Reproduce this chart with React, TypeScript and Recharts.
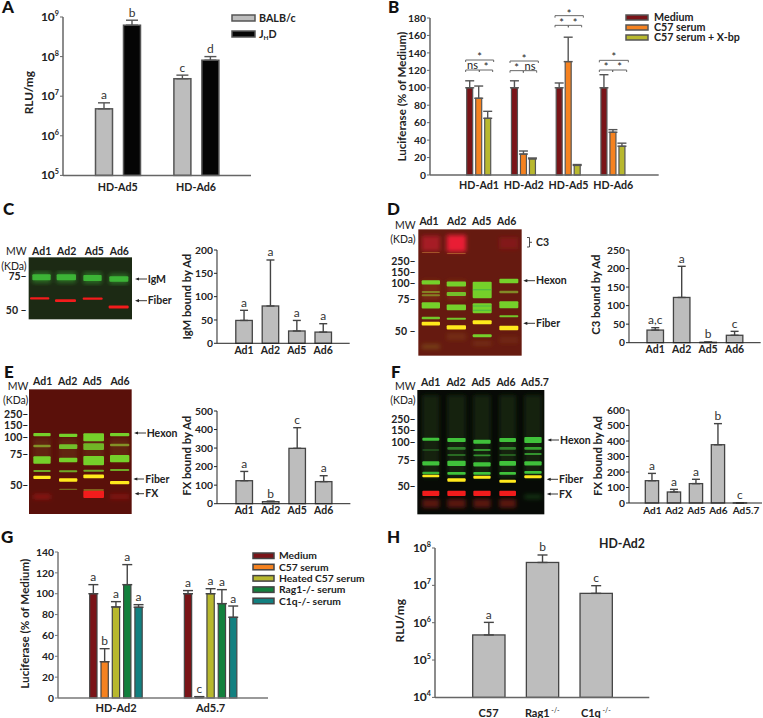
import React from 'react';
import { BarChart, Bar, XAxis, YAxis, ErrorBar, Legend } from 'recharts';

const FONT = 'Lato, sans-serif';
const INK = '#222';
const GREY = '#bdbdbd';
const MAROON = '#7a1418';
const ORANGE = '#f58220';
const OLIVE = '#b8b82e';
const GREEN = '#12803c';
const TEAL = '#128080';

// Panel A
const A_CATS = ['HD-Ad5', 'HD-Ad6'];
const A_BALB = [4.8e6, 2.76e7];
const A_BALB_TOP = [6.8e6, 3.4e7];
const A_BALB_SIG = ['a', 'c'];
const A_JHD = [6.2e8, 8.1e7];
const A_JHD_TOP = [8.3e8, 1e8];
const A_JHD_SIG = ['b', 'd'];
const A_TICKS = [1e5, 1e6, 1e7, 1e8, 1e9];

// Panel B
const B_CATS = ['HD-Ad1', 'HD-Ad2', 'HD-Ad5', 'HD-Ad6'];
const B_MEDIUM = [100, 100, 100, 100];
const B_MEDIUM_TOP = [108, 108, 105.5, 115];
const B_C57 = [88, 24, 130, 49];
const B_C57_TOP = [102, 27.5, 158, 52];
const B_XBP = [65, 18.5, 11, 33];
const B_XBP_TOP = [73, 19.5, 12, 36.5];
const B_TICKS = [0, 20, 40, 60, 80, 100, 120, 140, 160, 180];

// Panel C
const AD4 = ['Ad1', 'Ad2', 'Ad5', 'Ad6'];
const C_VALS = [49, 80, 26.4, 24];
const C_TOPS = [70.7, 178.6, 49, 42];
const C_SIG = ['a', 'a', 'a', 'a'];
const C_TICKS = [0, 50, 100, 150, 200];

// Panel D
const D_VALS = [34, 122, 1, 20];
const D_TOPS = [40.5, 206, 2, 30.6];
const D_SIG = ['a,c', 'a', 'b', 'c'];
const D_TICKS = [0, 50, 100, 150, 200, 250];

// Panel E
const E_VALS = [124, 11, 298.6, 119];
const E_TOPS = [174, 14, 410, 151];
const E_SIG = ['a', 'b', 'c', 'a'];
const E_TICKS = [0, 100, 200, 300, 400, 500];

// Panel F
const F_CATS = ['Ad1', 'Ad2', 'Ad5', 'Ad6', 'Ad5.7'];
const F_VALS = [144, 71, 125, 376, 0.5];
const F_TOPS = [191, 88, 153, 512, 0.5];
const F_SIG = ['a', 'a', 'a', 'b', 'c'];
const F_TICKS = [0, 100, 200, 300, 400, 500, 600];

// Panel G
const G_CATS = ['HD-Ad2', 'Ad5.7'];
const G_MEDIUM = [100, 100];
const G_MEDIUM_TOP = [108.7, 103];
const G_MEDIUM_SIG = ['a', 'a'];
const G_C57 = [34.8, 1];
const G_C57_TOP = [47.3, 1.3];
const G_C57_SIG = ['b', 'c'];
const G_HEATED = [87.3, 100];
const G_HEATED_TOP = [92.4, 104.8];
const G_HEATED_SIG = ['a', 'a'];
const G_RAG = [108.7, 90.5];
const G_RAG_TOP = [127.9, 103.9];
const G_RAG_SIG = ['a', 'a'];
const G_C1Q = [87, 77.4];
const G_C1Q_TOP = [89.5, 88.2];
const G_C1Q_SIG = ['a', 'a'];
const G_TICKS = [0, 20, 40, 60, 80, 100, 120, 140];

// Panel H
const H_CATS = ['C57', 'Rag1 -/-', 'C1q -/-'];
const H_VALS = [4.7e5, 4.1e7, 6.1e6];
const H_TOPS = [1.02e6, 6.5e7, 9.8e6];
const H_SIG = ['a', 'b', 'c'];
const H_TICKS = [1e4, 1e5, 1e6, 1e7, 1e8];

type Series = { key: string; vals: number[]; tops: number[]; sigs?: string[]; fill: string };

const letterBar = (s: Series, logMin: number | null, stroke: string, sw: number) => (p: any) => {
  const { x, y, width, height, index } = p;
  const v = s.vals[index];
  const t = s.tops[index];
  const frac = logMin ? Math.log(t / logMin) / Math.log(v / logMin) : t / v;
  const topY = y + height - height * frac;
  return (
    <g>
      <rect x={x} y={y} width={width} height={height} fill={s.fill} stroke={stroke} strokeWidth={sw} />
      {s.sigs && (
        <text x={x + width / 2} y={topY - 3.5} textAnchor="middle" fontFamily={FONT} fontSize={12} fill="#333">
          {s.sigs[index]}
        </text>
      )}
    </g>
  );
};

const PowTick = (fs: number) => (p: any) => {
  const exp = Math.round(Math.log10(p.payload.value));
  return (
    <text x={p.x} y={p.y + 4} textAnchor="end" fontFamily={FONT} fontWeight={700} fontSize={fs} fill={INK}>
      10<tspan dy={-5} fontSize={fs * 0.6}>{exp}</tspan>
    </text>
  );
};

const SupTick = (fs: number, dyTop: number) => (p: any) => {
  const [a, b] = String(p.payload.value).split(' ');
  return (
    <text x={p.x} y={p.y + dyTop} textAnchor="middle" fontFamily={FONT} fontWeight={700} fontSize={fs} fill={INK}>
      {a}
      {b && <tspan dy={-4} fontSize={fs * 0.62} fontWeight={400}>{' ' + b}</tspan>}
    </text>
  );
};

// the long last label of panel F sits a little to the right of its bar
const ShiftLastTick = (fs: number, dyTop: number, lastIndex: number, dx: number) => (p: any) => (
  <text x={p.x + (p.index === lastIndex ? dx : 0)} y={p.y + dyTop} textAnchor="middle" fontFamily={FONT} fontWeight={700} fontSize={fs} fill={INK}>
    {p.payload.value}
  </text>
);

type LegendSpec = { x: number; y: number; names: string[]; colors: string[]; rw: number; rh: number; pitch: number; tx: number; fs: number; stroke: string };

const LegendBox = (l: LegendSpec) => () => (
  <svg width={170} height={l.pitch * l.names.length + 8} style={{ display: 'block', overflow: 'visible' }}>
    {l.names.map((n, i) => (
      <g key={n}>
        <rect x={1} y={1 + i * l.pitch} width={l.rw} height={l.rh} fill={l.colors[i]} stroke={l.stroke} strokeWidth={1.5} />
        <text x={l.tx} y={1 + i * l.pitch + l.rh / 2 + l.fs * 0.36} fontFamily={FONT} fontWeight={700} fontSize={l.fs} fill={INK}>
          {n === 'JHD' ? (
            <>J<tspan dy={2} fontSize={l.fs * 0.6}>H</tspan><tspan dy={-2}>D</tspan></>
          ) : n}
        </text>
      </g>
    ))}
  </svg>
);

type ChartProps = {
  cats: string[]; series: Series[]; L: number; T: number; R: number; B: number;
  domain: [number, number]; ticks: number[]; log?: boolean; padL: number; padR: number;
  barSize: number; barGap?: number; cap: number; xMargin: number; xFont: number; yFont: number;
  axis: string; axisW: number; barStroke: string; barW: number; legend?: LegendSpec; xTick?: any;
};

function Chart(c: ChartProps) {
  const yw = 40, xh = 22, top = 10, right = 4;
  const left = c.L - yw;
  const chartTop = c.T - top;
  const rows = c.cats.map((name, i) => {
    const row: any = { name };
    c.series.forEach((s) => {
      row[s.key] = s.vals[i];
      row[s.key + '_e'] = [0, s.tops[i] - s.vals[i]];
    });
    return row;
  });
  const tickStyle = (fs: number) => ({ fontSize: fs, fontWeight: 700, fill: INK, fontFamily: FONT });
  return (
    <div style={{ position: 'absolute', left, top: chartTop }}>
      <BarChart
        width={c.R - c.L + yw + right}
        height={c.B - c.T + top + xh}
        data={rows}
        margin={{ top, right, bottom: 0, left: 0 }}
        barSize={c.barSize}
        barGap={c.barGap ?? 0}
      >
        <XAxis
          dataKey="name"
          height={xh}
          interval={0}
          tickLine={false}
          tickSize={0}
          tickMargin={c.xMargin}
          padding={{ left: c.padL, right: c.padR }}
          axisLine={{ stroke: c.axis, strokeWidth: c.axisW }}
          tick={c.xTick ?? tickStyle(c.xFont)}
        />
        <YAxis
          width={yw}
          domain={c.domain}
          ticks={c.ticks}
          interval={0}
          scale={c.log ? 'log' : 'linear'}
          allowDataOverflow={false}
          tickSize={3}
          tickMargin={1}
          axisLine={{ stroke: c.axis, strokeWidth: c.axisW }}
          tickLine={{ stroke: c.axis, strokeWidth: 1 }}
          tick={c.log ? PowTick(c.yFont) : tickStyle(c.yFont)}
        />
        {c.series.map((s) => (
          <Bar
            key={s.key}
            dataKey={s.key}
            isAnimationActive={false}
            shape={letterBar(s, c.log ? c.domain[0] : null, c.barStroke, c.barW)}
          >
            <ErrorBar dataKey={s.key + '_e'} direction="y" width={c.cap} stroke={c.barStroke} strokeWidth={1.4} isAnimationActive={false} />
          </Bar>
        ))}
        {c.legend && (
          <Legend
            layout="vertical"
            align="center"
            verticalAlign="middle"
            wrapperStyle={{ left: c.legend.x - left, top: c.legend.y - chartTop, width: 170, margin: 0 }}
            content={LegendBox(c.legend)}
          />
        )}
      </BarChart>
    </div>
  );
}

// ---- decorative overlay (blots, annotations) ----
const Gn = '#74d02c';
const Gf = '#3fc23a';
const Yl = '#ffe91c';
const Rd = '#f21c1c';
const Ol = '#8aa52a';
type BandRow = [number, number, string, number?];
type Lane = [number, number, BandRow[]];

const C_LANES: Lane[] = [
  [97, 152, [[232, 18, Gf, 0.85]]], [170, 228, [[232, 18, Gf, 0.85]]], [250, 305, [[234, 18, Gf, 0.85]]], [328, 385, [[237, 16, Gf, 0.85]]],
  [90, 148, [[295, 7, Rd]]], [165, 228, [[302, 8, Rd]]], [248, 308, [[296, 7, Rd]]], [326, 386, [[321, 9, Rd]]],
];
const C_GLOW: Lane[] = [
  [97, 152, [[232, 34, Gf, 0.4]]], [170, 228, [[232, 34, Gf, 0.4]]], [250, 305, [[234, 34, Gf, 0.4]]], [328, 385, [[237, 32, Gf, 0.4]]],
];
const D_LANES: Lane[] = [
  [125, 180, [[158, 2, '#d8a040', 0.6], [247, 13, Gn], [276, 6, Ol, 0.7], [286, 6, Ol, 0.7], [316, 19, Gn], [354, 7, Gn, 0.95], [371, 11, Yl]]],
  [200, 258, [[161, 2, '#d8a040', 0.6], [252, 15, Gn], [282, 12, Gn, 0.9], [322, 17, Gn], [356, 6, Gn, 0.95], [382, 13, Yl]]],
  [278, 335, [[270, 50, Gn], [269, 3, '#3fae4a', 0.8], [325, 30, Gn], [318, 3, '#3fae4a', 0.8], [331, 3, '#3fae4a', 0.8], [367, 12, Yl], [407, 9, Gn]]],
  [358, 415, [[243, 14, Gn], [276, 7, Ol, 0.8], [314, 21, Gn], [349, 6, Gn, 0.95], [384, 13, Yl]]],
];
const D_GLOW: Lane[] = [
  [125, 180, [[130, 46, '#d01a30', 0.6], [270, 60, '#8a3a18', 0.5], [440, 14, '#8a6a20', 0.5]]],
  [200, 258, [[130, 50, '#f01a36', 0.95], [270, 60, '#8a3a18', 0.5], [410, 20, '#8a4a18', 0.4]]],
  [278, 335, [[430, 14, '#8a4a18', 0.4]]],
  [358, 415, [[130, 36, '#a01a24', 0.5], [420, 20, '#8a4a18', 0.3]]],
];
const E_LANES: Lane[] = [
  [100, 152, [[254, 10, Gn], [288, 7, Ol, 0.85], [330, 22, Gn], [363, 6, Gn, 0.8], [382, 10, Yl]]],
  [177, 232, [[256, 10, Gn], [290, 14, Gn, 0.9], [330, 14, Gn], [364, 6, Gn, 0.8], [390, 10, Yl], [418, 4, Ol, 0.6]]],
  [250, 312, [[262, 24, Gn], [290, 20, Gn, 0.85], [332, 28, Gn], [362, 6, Gn, 0.8], [379, 11, Yl], [420, 5, '#9a9a2a', 0.8], [433, 22, Rd]]],
  [330, 388, [[254, 10, Gn], [285, 7, Ol, 0.85], [326, 22, Gn], [360, 6, Gn, 0.8], [398, 10, Yl]]],
];
const E_GLOW: Lane[] = [
  [100, 152, [[440, 14, '#b01a1a', 0.6], [300, 70, '#6a3a14', 0.5]]],
  [177, 232, [[300, 70, '#6a3a14', 0.5]]],
  [250, 312, [[300, 70, '#6a3a14', 0.5]]],
  [330, 388, [[440, 14, '#b01a1a', 0.5], [300, 70, '#6a3a14', 0.5]]],
];
const F_LANES: Lane[] = [
  [127, 178, [[268, 9, Gf], [300, 6, Gf, 0.25], [340, 13, Gf], [369, 7, Gf, 0.9], [378, 7, Yl], [430, 16, Rd]]],
  [202, 257, [[270, 12, Gf], [295, 8, Gf, 0.6], [315, 5, Gf, 0.6], [340, 16, Gf], [370, 8, Gf], [390, 10, Yl], [430, 16, Rd]]],
  [280, 332, [[275, 12, Gf], [300, 6, Gf, 0.7], [316, 5, Gf, 0.7], [343, 13, Gf], [370, 8, Gf], [382, 9, Yl], [430, 16, Rd]]],
  [358, 408, [[270, 12, Gf], [295, 8, Gf, 0.6], [315, 5, Gf, 0.5], [340, 14, Gf], [370, 8, Gf], [394, 9, Yl], [430, 16, Rd]]],
  [433, 485, [[270, 18, Gf], [295, 8, Gf, 0.8], [312, 6, Gf, 0.7], [340, 13, Gf], [367, 8, Gf], [380, 9, Yl]]],
];
const F_GLOW: Lane[] = [
  [127, 178, [[260, 250, '#1e3016', 0.6], [460, 26, '#701a10', 0.8]]],
  [202, 257, [[260, 250, '#1e3016', 0.6], [460, 26, '#701a10', 0.8]]],
  [280, 332, [[260, 250, '#1e3016', 0.6], [460, 26, '#701a10', 0.8]]],
  [358, 408, [[260, 250, '#1e3016', 0.6], [460, 26, '#701a10', 0.8]]],
  [433, 485, [[260, 250, '#1e3016', 0.6], [440, 12, Gf, 0.25]]],
];

const bandRects = (ox: number, oy: number, lanes: Lane[]) =>
  lanes.map(([a, b, rows], i) =>
    rows.map(([y, h, col, op], j) => (
      <rect key={i + '-' + j} x={ox + a / 3} y={oy + (y - h / 2) / 3} width={(b - a) / 3} height={h / 3} fill={col} opacity={op ?? 1} rx={1} />
    ))
  );

const Blot = ({ id, ox, oy, x0, x1, y0, y1, bg, lanes, glow }: { id: string; ox: number; oy: number; x0: number; x1: number; y0: number; y1: number; bg: string; lanes: Lane[]; glow: Lane[] }) => (
  <g>
    <clipPath id={id}>
      <rect x={ox + x0 / 3} y={oy + y0 / 3} width={(x1 - x0) / 3} height={(y1 - y0) / 3} />
    </clipPath>
    <rect x={ox + x0 / 3} y={oy + y0 / 3} width={(x1 - x0) / 3} height={(y1 - y0) / 3} fill={bg} />
    <g clipPath={`url(#${id})`}>
      <g filter="url(#glow)">{bandRects(ox, oy, glow)}</g>
      <g filter="url(#soft)">{bandRects(ox, oy, lanes)}</g>
    </g>
  </g>
);

const T = (p: { x: number; y: number; s: string; fs?: number; w?: number; a?: string; fill?: string }) => (
  <text x={p.x} y={p.y} fontFamily={FONT} fontSize={p.fs ?? 10.5} fontWeight={p.w ?? 700} textAnchor={p.a ?? 'start'} fill={p.fill ?? INK}>
    {p.s}
  </text>
);

const VT = ({ x, y, s, fs }: { x: number; y: number; s: string; fs: number }) => (
  <text transform={`translate(${x},${y}) rotate(-90)`} fontFamily={FONT} fontSize={fs} fontWeight={700} textAnchor="middle" fill={INK} dominantBaseline="middle">
    {s}
  </text>
);

const Arrow = ({ x0, x1, y }: { x0: number; x1: number; y: number }) => (
  <g>
    <line x1={x0 + 2} x2={x1} y1={y} y2={y} stroke="#222" strokeWidth={0.9} />
    <polygon points={`${x0},${y} ${x0 + 4},${y - 1.6} ${x0 + 4},${y + 1.6}`} fill="#222" />
  </g>
);

const Bracket = ({ a, b, y }: { a: number; b: number; y: number }) => (
  <polyline points={`${a},${y + 2} ${a},${y} ${b},${y} ${b},${y + 2}`} fill="none" stroke="#666" strokeWidth={1} />
);

const BRACKETS: { top: [number, number, number]; l: [number, number, number]; r: [number, number, number]; s: [string, string, string]; ty: number; ly: number }[] = [
  { top: [257, 341, 180], l: [257, 298, 210], r: [298, 338, 210], s: ['*', 'ns', '*'], ty: 165, ly: 195 },
  { top: [390, 475, 183], l: [390, 430, 212], r: [430, 470, 212], s: ['*', '*', 'ns'], ty: 170, ly: 198 },
  { top: [525, 610, 47], l: [525, 565, 76], r: [565, 605, 76], s: ['*', '*', '*'], ty: 35, ly: 62 },
  { top: [658, 745, 181], l: [658, 698, 210], r: [698, 740, 210], s: ['*', '*', '*'], ty: 166, ly: 195 },
];

const MW = ({ ox, oy, xr, mwY, kY, rows }: { ox: number; oy: number; xr: number; mwY: number; kY: number; rows: [string, number][] }) => (
  <g>
    <T x={ox + xr / 3} y={oy + mwY / 3 + 3.5} s="MW" a="end" w={400} fs={10.5} />
    <T x={ox + xr / 3} y={oy + kY / 3 + 3.5} s="(KDa)" a="end" w={400} fs={10.5} />
    {rows.map(([s, y]) => (
      <T key={s} x={ox + xr / 3} y={oy + y / 3 + 3.5} s={s + '–'} a="end" fs={10.5} />
    ))}
  </g>
);

const Overlay = () => (
  <svg width={763} height={718} style={{ position: 'absolute', left: 0, top: 0 }}>
    <defs>
      <filter id="soft" x="-5%" y="-5%" width="110%" height="110%">
        <feGaussianBlur stdDeviation="0.7" />
      </filter>
      <filter id="glow" x="-10%" y="-10%" width="120%" height="120%">
        <feGaussianBlur stdDeviation="2.2" />
      </filter>
    </defs>

    {/* panel letters */}
    {([['A', 2, 13], ['B', 388, 13], ['C', 3, 214.7], ['D', 387, 214.7], ['E', 4, 378], ['F', 391, 377.7], ['G', 1, 542.7], ['H', 387, 542.7]] as [string, number, number][]).map(([s, x, y]) => (
      <T key={s} x={x} y={y} s={s} fs={17} w={900} fill="#111" />
    ))}

    {/* axis titles */}
    <VT x={30} y={92.7} s="RLU/mg" fs={11.8} />
    <VT x={402.7} y={96.7} s="Luciferase (% of Medium)" fs={11.6} />
    <VT x={188} y={296.7} s="IgM bound by Ad" fs={11.3} />
    <VT x={597.3} y={294.7} s="C3 bound by Ad" fs={11.3} />
    <VT x={188} y={455.8} s="FX bound by Ad" fs={11.3} />
    <VT x={599} y={456} s="FX bound by Ad" fs={11.3} />
    <VT x={25.7} y={623.8} s="Luciferase (% of Medium)" fs={11.6} />
    <VT x={400.7} y={620.8} s="RLU/mg" fs={11.8} />

    {/* brackets in B */}
    {BRACKETS.map((b, i) => (
      <g key={i}>
        <Bracket a={380 + b.top[0] / 3} b={380 + b.top[1] / 3} y={b.top[2] / 3} />
        <Bracket a={380 + b.l[0] / 3} b={380 + b.l[1] / 3} y={b.l[2] / 3} />
        <Bracket a={380 + b.r[0] / 3} b={380 + b.r[1] / 3} y={b.r[2] / 3} />
        <T x={380 + (b.top[0] + b.top[1]) / 6} y={b.ty / 3 + 6} s={b.s[0]} a="middle" w={400} fs={11} />
        <T x={380 + (b.l[0] + b.l[1]) / 6} y={b.ly / 3 + (b.s[1] === 'ns' ? 3.5 : 6)} s={b.s[1]} a="middle" w={400} fs={11} />
        <T x={380 + (b.r[0] + b.r[1]) / 6} y={b.ly / 3 + (b.s[2] === 'ns' ? 3.5 : 6)} s={b.s[2]} a="middle" w={400} fs={11} />
      </g>
    ))}

    {/* C blot */}
    <Blot id="cC" ox={0} oy={200} x0={86} x1={396} y0={172} y1={358} bg="#1c2a14" lanes={C_LANES} glow={C_GLOW} />
    <MW ox={0} oy={200} xr={80} mwY={155} kY={198} rows={[['75', 229], ['50 ', 330]]} />
    {([['Ad1', 125], ['Ad2', 200], ['Ad5', 283], ['Ad6', 358]] as [string, number][]).map(([s, x]) => <T key={s} x={x / 3} y={254.5} s={s} a="middle" />)}
    <Arrow x0={135} x1={147} y={279} />
    <T x={147.7} y={282.5} s="IgM" w={700} />
    <Arrow x0={135} x1={147} y={300.7} />
    <T x={147.7} y={304.2} s="Fiber" w={700} />

    {/* D blot */}
    <Blot id="cD" ox={380} oy={200} x0={115} x1={425} y0={88} y1={467} bg="#661a10" lanes={D_LANES} glow={D_GLOW} />
    <MW ox={380} oy={200} xr={107} mwY={75} kY={118} rows={[['250', 183], ['150', 216], ['100', 250], ['75', 298], ['50 ', 395]]} />
    {([['Ad1', 147], ['Ad2', 230], ['Ad5', 305], ['Ad6', 380]] as [string, number][]).map(([s, x]) => <T key={s} x={380 + x / 3} y={225} s={s} a="middle" />)}
    <polyline points="527,237.5 529.5,237.5 529.5,247 527,247" fill="none" stroke="#222" strokeWidth={0.8} />
    <line x1={529.5} x2={532} y1={242.3} y2={242.3} stroke="#222" strokeWidth={0.8} />
    <T x={536} y={245.8} s="C3" />
    <Arrow x0={523.3} x1={535} y={280.7} />
    <T x={536} y={284.3} s="Hexon" />
    <Arrow x0={523.3} x1={535} y={323.3} />
    <T x={536} y={327} s="Fiber" />

    {/* E blot */}
    <Blot id="cE" ox={0} oy={350} x0={87} x1={395} y0={118} y1={492} bg="#5a100a" lanes={E_LANES} glow={E_GLOW} />
    <MW ox={0} oy={350} xr={85} mwY={108} kY={152} rows={[['250', 192], ['150', 225], ['100', 261], ['75', 314], ['50', 407]]} />
    {([['Ad1', 128], ['Ad2', 203], ['Ad5', 277], ['Ad6', 360]] as [string, number][]).map(([s, x]) => <T key={s} x={x / 3} y={385} s={s} a="middle" />)}
    <Arrow x0={134} x1={146} y={433} />
    <T x={146.7} y={436.5} s="Hexon" />
    <Arrow x0={133.3} x1={144} y={479} />
    <T x={145.3} y={482.5} s="Fiber" />
    <Arrow x0={134.7} x1={144} y={493.7} />
    <T x={145.3} y={497.2} s="FX" />

    {/* F blot */}
    <Blot id="cF" ox={380} oy={350} x0={112} x1={493} y0={120} y1={493} bg="#070a06" lanes={F_LANES} glow={F_GLOW} />
    <MW ox={380} oy={350} xr={107} mwY={110} kY={152} rows={[['250', 207], ['150', 241], ['100', 276], ['75', 330], ['50', 410]]} />
    {([['Ad1', 152], ['Ad2', 228], ['Ad5', 303], ['Ad6', 378], ['Ad5.7', 465]] as [string, number][]).map(([s, x]) => <T key={s} x={380 + x / 3} y={385.7} s={s} a="middle" />)}
    <Arrow x0={547.3} x1={559} y={440} />
    <T x={560} y={443.5} s="Hexon" />
    <Arrow x0={546.7} x1={558} y={479.3} />
    <T x={559} y={482.8} s="Fiber" />
    <Arrow x0={546.7} x1={558} y={494} />
    <T x={559} y={497.5} s="FX" />

    {/* H title */}
    <T x={599} y={547.5} s="HD-Ad2" fs={12.3} />
  </svg>
);

export default function App() {
  return (
    <div style={{ position: 'absolute', left: 0, top: 0, width: 763, height: 718, background: '#fff', overflow: 'hidden' }}>
      <Overlay />
      <Chart
        cats={A_CATS}
        series={[
          { key: 'balb', vals: A_BALB, tops: A_BALB_TOP, sigs: A_BALB_SIG, fill: GREY },
          { key: 'jhd', vals: A_JHD, tops: A_JHD_TOP, sigs: A_JHD_SIG, fill: '#050505' },
        ]}
        L={62.5} T={17.3} R={250.5} B={175.7}
        domain={[1e5, 1e9]} ticks={A_TICKS} log padL={15.5} padR={15.7}
        barSize={17} barGap={11} cap={6} xMargin={8} xFont={10.7} yFont={12}
        axis="#666" axisW={1.5} barStroke="#555" barW={1.5}
        legend={{ x: 231, y: 14, names: ['BALB/c', 'JHD'], colors: [GREY, '#050505'], rw: 23, rh: 6, pitch: 16, tx: 28, fs: 10.7, stroke: '#555' }}
      />
      <Chart
        cats={B_CATS}
        series={[
          { key: 'med', vals: B_MEDIUM, tops: B_MEDIUM_TOP, fill: MAROON },
          { key: 'c57', vals: B_C57, tops: B_C57_TOP, fill: ORANGE },
          { key: 'xbp', vals: B_XBP, tops: B_XBP_TOP, fill: OLIVE },
        ]}
        L={430} T={18.3} R={658.7} B={175.3}
        domain={[0, 180]} ticks={B_TICKS} padL={26.7} padR={23}
        barSize={6} barGap={3} cap={4.5} xMargin={6} xFont={10.7} yFont={10.3}
        axis="#666" axisW={1.5} barStroke="#555" barW={1.2}
        legend={{ x: 625, y: 14, names: ['Medium', 'C57 serum', 'C57 serum + X-bp'], colors: [MAROON, ORANGE, OLIVE], rw: 22, rh: 5, pitch: 10, tx: 29, fs: 10.7, stroke: '#555' }}
      />
      <Chart
        cats={AD4}
        series={[{ key: 'v', vals: C_VALS, tops: C_TOPS, sigs: C_SIG, fill: GREY }]}
        L={217.3} T={250} R={350} B={343.3}
        domain={[0, 200]} ticks={C_TICKS} padL={13.8} padR={13.3}
        barSize={16.5} cap={4} xMargin={3} xFont={10.5} yFont={10.3}
        axis="#222" axisW={1} barStroke="#444" barW={1.3}
      />
      <Chart
        cats={AD4}
        series={[{ key: 'v', vals: D_VALS, tops: D_TOPS, sigs: D_SIG, fill: GREY }]}
        L={629.3} T={250} R={761} B={342.7}
        domain={[0, 250]} ticks={D_TICKS} padL={13} padR={12.9}
        barSize={16.5} cap={4} xMargin={3} xFont={10.5} yFont={10.3}
        axis="#222" axisW={1} barStroke="#444" barW={1.3}
      />
      <Chart
        cats={AD4}
        series={[{ key: 'v', vals: E_VALS, tops: E_TOPS, sigs: E_SIG, fill: GREY }]}
        L={217.3} T={411} R={350.7} B={503.7}
        domain={[0, 500]} ticks={E_TICKS} padL={14} padR={13.5}
        barSize={16.5} cap={4} xMargin={3} xFont={10.5} yFont={10.3}
        axis="#222" axisW={1} barStroke="#444" barW={1.3}
      />
      <Chart
        cats={F_CATS}
        series={[{ key: 'v', vals: F_VALS, tops: F_TOPS, sigs: F_SIG, fill: GREY }]}
        L={628.7} T={410.3} R={761.7} B={503.3}
        domain={[0, 600]} ticks={F_TICKS} padL={12.3} padR={10.7}
        barSize={13.3} cap={4} xMargin={2} xFont={10} yFont={10.3}
        axis="#222" axisW={1} barStroke="#444" barW={1.3}
        xTick={ShiftLastTick(10, 8.6, 4, 5.7)}
      />
      <Chart
        cats={G_CATS}
        series={[
          { key: 'med', vals: G_MEDIUM, tops: G_MEDIUM_TOP, sigs: G_MEDIUM_SIG, fill: MAROON },
          { key: 'c57', vals: G_C57, tops: G_C57_TOP, sigs: G_C57_SIG, fill: ORANGE },
          { key: 'heat', vals: G_HEATED, tops: G_HEATED_TOP, sigs: G_HEATED_SIG, fill: OLIVE },
          { key: 'rag', vals: G_RAG, tops: G_RAG_TOP, sigs: G_RAG_SIG, fill: GREEN },
          { key: 'c1q', vals: G_C1Q, tops: G_C1Q_TOP, sigs: G_C1Q_SIG, fill: TEAL },
        ]}
        L={58.3} T={551.7} R={268.3} B={697.7}
        domain={[0, 140]} ticks={G_TICKS} padL={10.7} padR={10}
        barSize={7.3} barGap={4} cap={5} xMargin={6.5} xFont={11} yFont={10.3}
        axis="#777" axisW={1.5} barStroke="#444" barW={1.2}
        legend={{ x: 252, y: 552, names: ['Medium', 'C57 serum', 'Heated C57 serum', 'Rag1-/- serum', 'C1q-/- serum'], colors: [MAROON, ORANGE, OLIVE, GREEN, TEAL], rw: 21, rh: 5.5, pitch: 11.3, tx: 27, fs: 10.3, stroke: '#444' }}
      />
      <Chart
        cats={H_CATS}
        series={[{ key: 'v', vals: H_VALS, tops: H_TOPS, sigs: H_SIG, fill: GREY }]}
        L={435} T={548.3} R={649.3} B={697.7}
        domain={[1e4, 1e8]} ticks={H_TICKS} log padL={26.7} padR={26.6}
        barSize={32.3} cap={5} xMargin={6.5} xFont={11} yFont={12}
        axis="#666" axisW={1.5} barStroke="#444" barW={1.3}
        xTick={SupTick(11, 13)}
      />
    </div>
  );
}
